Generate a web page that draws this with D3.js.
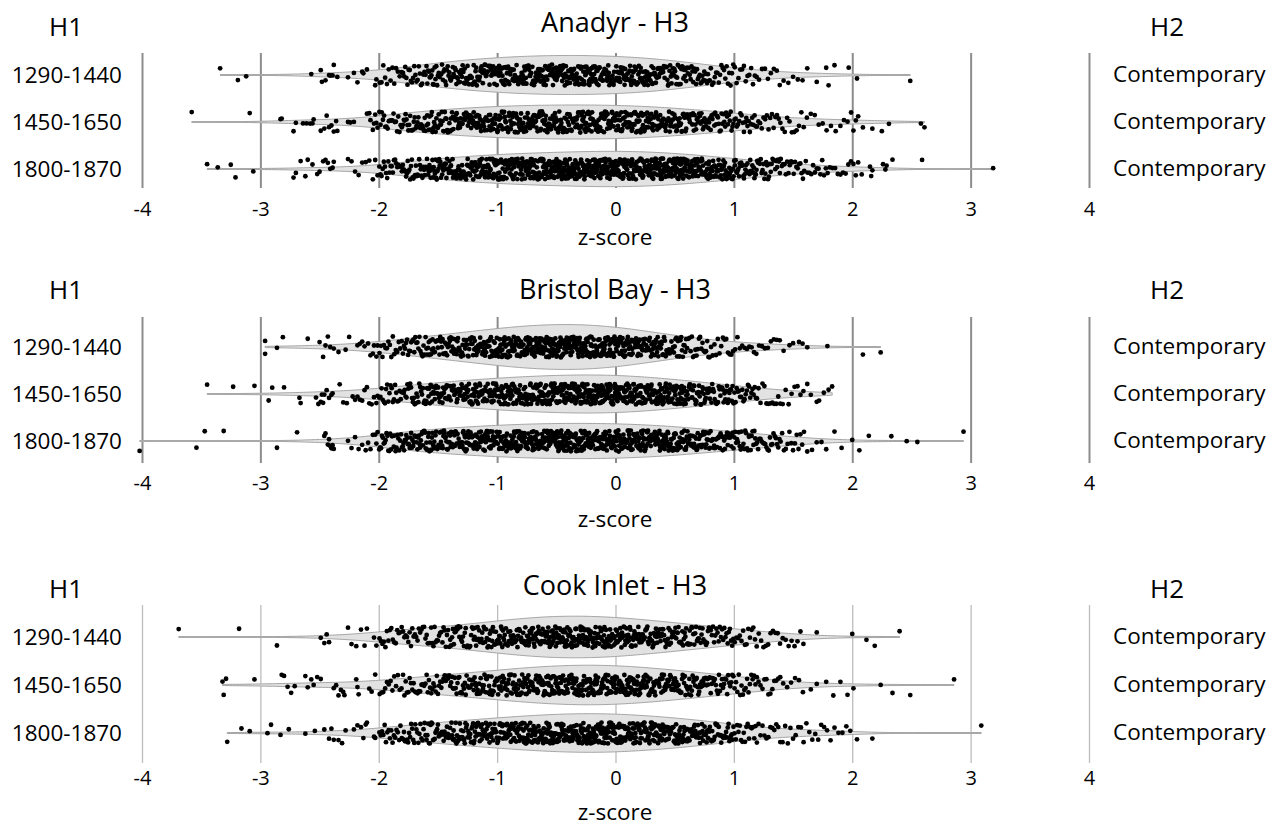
<!DOCTYPE html>
<html>
<head>
<meta charset="utf-8">
<script src="https://cdn.jsdelivr.net/npm/d3@7"></script>
<style>
  html, body { margin: 0; padding: 0; background: #fff; }
  svg { display: block; font-family: "Open Sans", "Noto Sans", sans-serif; }
</style>
</head>
<body>
<svg id="chart" width="1283" height="829"></svg>
<script>
// ---- data -------------------------------------------------------------
const xTicks = [-4, -3, -2, -1, 0, 1, 2, 3, 4];
const periods = ["1290-1440", "1450-1650", "1800-1870"];
const regions = ["Anadyr", "Bristol Bay", "Cook Inlet"];
const rightLabel = "Contemporary";

// Dense part of each distribution: counts of z-scores in 0.2-wide bins from -2.0
const coreStart = -2.0;
const binWidth = 0.2;

// Anadyr: individual sparse z-scores below / above the dense part, and bin counts
const anadyrLow = [
  [-3.34, -3.19, -3.12, -2.57, -2.49, -2.48, -2.45, -2.42, -2.41, -2.39, -2.38, -2.35, -2.26, -2.21, -2.18, -2.14, -2.13, -2.10, -2.03, -2.02],
  [-3.58, -3.09, -2.83, -2.82, -2.72, -2.70, -2.64, -2.61, -2.58, -2.56, -2.55, -2.49, -2.46, -2.44, -2.42, -2.40, -2.38, -2.36, -2.35, -2.26, -2.24, -2.21, -2.10, -2.08, -2.07, -2.05, -2.04, -2.03, -2.02, -2.01],
  [-3.45, -3.36, -3.25, -3.21, -3.06, -2.72, -2.70, -2.66, -2.62, -2.60, -2.56, -2.52, -2.50, -2.47, -2.45, -2.43, -2.41, -2.39, -2.38, -2.26, -2.23, -2.20, -2.17, -2.14, -2.11, -2.08, -2.05, -2.03, -2.01]
];
const anadyrCounts = [
  [13, 21, 29, 34, 39, 42, 44, 46, 46, 44, 43, 39, 34, 26, 18, 13, 8, 5],
  [20, 26, 31, 36, 39, 42, 43, 44, 44, 44, 43, 40, 36, 31, 26, 20, 14, 10, 6],
  [21, 29, 39, 47, 52, 57, 60, 62, 65, 68, 68, 65, 60, 52, 44, 34, 26, 18, 13, 9]
];
const anadyrHigh = [
  [1.62, 1.70, 1.78, 1.80, 1.85, 1.97, 2.04, 2.49],
  [1.82, 1.86, 1.90, 1.93, 1.96, 1.99, 2.01, 2.03, 2.05, 2.09, 2.17, 2.25, 2.31, 2.58, 2.61],
  [2.01, 2.03, 2.05, 2.08, 2.15, 2.16, 2.17, 2.26, 2.28, 2.29, 2.34, 2.59, 3.19]
];

// Bristol Bay
const bristolLow = [
  [-2.96, -2.96, -2.86, -2.81, -2.60, -2.50, -2.47, -2.45, -2.43, -2.41, -2.38, -2.34, -2.28, -2.25, -2.18, -2.16, -2.14, -2.12, -2.09, -2.07, -2.05, -2.04, -2.02, -2.01],
  [-3.45, -3.23, -3.05, -2.93, -2.90, -2.80, -2.67, -2.66, -2.53, -2.51, -2.49, -2.48, -2.47, -2.46, -2.44, -2.42, -2.40, -2.39, -2.33, -2.30, -2.27, -2.22, -2.20, -2.18, -2.16, -2.14, -2.12, -2.10, -2.08, -2.06, -2.04, -2.02, -2.01],
  [-4.02, -3.54, -3.47, -3.31, -2.86, -2.69, -2.46, -2.45, -2.43, -2.42, -2.41, -2.40, -2.39, -2.38, -2.26, -2.23, -2.20, -2.17, -2.14, -2.11, -2.09, -2.07, -2.05, -2.03, -2.02, -2.01]
];
const bristolCounts = [
  [16, 23, 31, 36, 44, 52, 57, 60, 60, 57, 49, 39, 29, 20, 14, 10, 8],
  [21, 26, 34, 39, 44, 49, 52, 55, 57, 57, 55, 49, 43, 35, 29, 21, 12, 8],
  [26, 34, 39, 44, 49, 52, 55, 57, 57, 56, 55, 52, 47, 39, 33, 26, 20, 13]
];
const bristolHigh = [
  [1.42, 1.47, 1.50, 1.55, 1.58, 1.62, 1.79, 2.09, 2.24],
  [1.62, 1.65, 1.70, 1.72, 1.76, 1.80, 1.83],
  [1.62, 1.66, 1.70, 1.74, 1.78, 1.85, 1.91, 2.00, 2.06, 2.14, 2.33, 2.46, 2.55, 2.94]
];

// Cook Inlet
const cookLow = [
  [-3.69, -3.18, -2.86, -2.49, -2.46, -2.44, -2.42, -2.26, -2.23, -2.19, -2.15, -2.12, -2.10, -2.04, -2.02],
  [-3.32, -3.31, -3.29, -3.05, -2.82, -2.80, -2.77, -2.74, -2.71, -2.62, -2.60, -2.57, -2.55, -2.52, -2.49, -2.38, -2.36, -2.34, -2.32, -2.30, -2.29, -2.19, -2.18, -2.17, -2.08, -2.06, -2.03],
  [-3.28, -3.16, -3.09, -2.94, -2.91, -2.83, -2.76, -2.62, -2.54, -2.46, -2.42, -2.40, -2.38, -2.34, -2.31, -2.28, -2.21, -2.18, -2.15, -2.13, -2.11, -2.10, -2.04, -2.03]
];
const cookCounts = [
  [16, 18, 21, 26, 31, 39, 44, 47, 47, 46, 42, 36, 31, 26, 21, 14, 10, 8, 1],
  [13, 18, 21, 26, 31, 36, 42, 44, 47, 47, 44, 39, 34, 29, 23, 17, 12, 6],
  [18, 23, 29, 34, 39, 44, 49, 52, 55, 55, 52, 47, 42, 36, 29, 18, 12, 9, 8, 6]
];
const cookHigh = [
  [2.00, 2.12, 2.19, 2.40],
  [1.65, 1.70, 1.78, 1.84, 1.90, 1.96, 2.01, 2.24, 2.34, 2.49, 2.86],
  [2.04, 2.17, 3.09]
];

// ---- layout -----------------------------------------------------------
const panels = [
  { region: regions[0], low: anadyrLow, counts: anadyrCounts, high: anadyrHigh,
    gridTop: 53, gridBottom: 188, rowTop: 75, rowBottom: 169, headY: 36, titleY: 32,
    tickY: 216, axisLabelY: 245, gridColor: "#8c8c8c", gridWidth: 2 },
  { region: regions[1], low: bristolLow, counts: bristolCounts, high: bristolHigh,
    gridTop: 317, gridBottom: 463, rowTop: 347, rowBottom: 441, headY: 299, titleY: 299,
    tickY: 490, axisLabelY: 527, gridColor: "#8c8c8c", gridWidth: 2 },
  { region: regions[2], low: cookLow, counts: cookCounts, high: cookHigh,
    gridTop: 605, gridBottom: 763, rowTop: 637, rowBottom: 733, headY: 598, titleY: 595,
    tickY: 785, axisLabelY: 820, gridColor: "#bdbdbd", gridWidth: 1.3 }
];

const svg = d3.select("#chart");
const x = d3.scaleLinear().domain([-4, 4]).range([142, 1089]);
const spread = 10.5;     // half-height of the vertical point scatter
const widthScale = 50;   // px of violin half-width per unit density
const bandwidth = 0.28;

function buildValues(low, counts, high) {
  const vals = low.slice();
  counts.forEach((n, i) => {
    const lo = coreStart + i * binWidth;
    for (let k = 0; k < n; k++) vals.push(lo + (k + 0.5) / n * binWidth);
  });
  return vals.concat(high).sort(d3.ascending);
}

// deterministic scatter offset in [0,1)
function scatter(i, seed) {
  const s = Math.sin(i * 12.9898 + seed * 78.233) * 43758.5453;
  return s - Math.floor(s);
}

function kde(values, lo, hi) {
  const n = values.length, steps = 220;
  const norm = 1 / (n * bandwidth * Math.sqrt(2 * Math.PI));
  return d3.range(steps + 1).map(j => {
    const t = lo + (hi - lo) * j / steps;
    let s = 0;
    for (const v of values) { const u = (t - v) / bandwidth; s += Math.exp(-0.5 * u * u); }
    return [t, s * norm];
  });
}

panels.forEach((p, pi) => {
  const g = svg.append("g");
  const y = d3.scalePoint().domain(periods).range([p.rowTop, p.rowBottom]);

  // gridlines and tick labels
  const axis = d3.axisBottom(x).tickValues(xTicks).tickSize(p.gridBottom - p.gridTop)
    .tickFormat(d => String(d));
  const ax = g.append("g").attr("transform", `translate(0,${p.gridTop})`).call(axis);
  ax.select(".domain").remove();
  ax.selectAll(".tick line").attr("stroke", p.gridColor).attr("stroke-width", p.gridWidth);
  ax.selectAll(".tick text")
    .attr("y", p.tickY - p.gridTop).attr("dy", 0)
    .attr("fill", "#000").style("font-size", "20px")
    .style("font-family", "'Open Sans', 'Noto Sans', sans-serif");

  // headings
  g.append("text").attr("x", 66).attr("y", p.headY).attr("text-anchor", "middle")
    .style("font-size", "26px").text("H1");
  g.append("text").attr("x", 1167).attr("y", p.headY).attr("text-anchor", "middle")
    .style("font-size", "26px").text("H2");
  g.append("text").attr("x", 615).attr("y", p.titleY).attr("text-anchor", "middle")
    .style("font-size", "27px").text(p.region + " - H3");
  g.append("text").attr("x", 615).attr("y", p.axisLabelY).attr("text-anchor", "middle")
    .style("font-size", "22.5px").text("z-score");

  periods.forEach((period, ri) => {
    const cy = y(period);
    g.append("text").attr("x", 122).attr("y", cy + 8).attr("text-anchor", "end")
      .style("font-size", "22.5px").text(period);
    g.append("text").attr("x", 1113).attr("y", cy + 7).attr("text-anchor", "start")
      .style("font-size", "22.5px").text(rightLabel);

    const values = buildValues(p.low[ri], p.counts[ri], p.high[ri]);
    const lo = values[0], hi = values[values.length - 1];
    const dens = kde(values, lo, hi);

    // violin body
    const area = d3.area()
      .x(d => x(d[0]))
      .y0(d => cy - d[1] * widthScale)
      .y1(d => cy + d[1] * widthScale)
      .curve(d3.curveBasis);
    g.append("line")
      .attr("x1", x(lo)).attr("x2", x(hi)).attr("y1", cy).attr("y2", cy)
      .attr("stroke", "#adadad").attr("stroke-width", 1.8);
    g.append("path").datum(dens).attr("d", area)
      .attr("fill", "#e2e2e2")
      .attr("stroke", "#a6a6a6").attr("stroke-width", 1);

    // points
    const seed = pi * 3 + ri + 1;
    g.append("g").selectAll("circle").data(values).join("circle")
      .attr("cx", d => x(d))
      .attr("cy", (d, i) => cy + (scatter(i, seed) * 2 - 1) * spread)
      .attr("r", 2.4)
      .attr("fill", "#000");
  });
});
</script>
</body>
</html>
